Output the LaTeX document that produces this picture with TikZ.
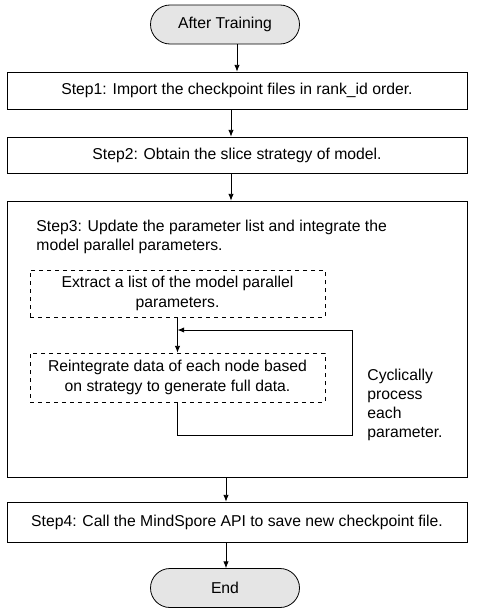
\documentclass[tikz,border=0pt]{standalone}
\usepackage{fontspec}
\setmainfont{Liberation Sans}
\usetikzlibrary{arrows.meta,shapes.misc}
\begin{document}
\begin{tikzpicture}[x=0.75pt,y=-0.75pt,
  font=\fontsize{11.8pt}{14.4pt}\selectfont,
  term/.style={draw,rounded rectangle,fill=black!10,minimum width=111.75pt,minimum height=29.25pt,inner sep=0pt},
  stepbox/.style={draw,rectangle,minimum width=345pt,inner sep=0pt},
  dbox/.style={draw,dashed,rectangle,minimum width=221.25pt,align=center,inner sep=0pt},
  arr/.style={-{Latex[length=5pt,width=4pt]},line width=0.6pt},
  line width=0.6pt]
\useasboundingbox (0,0) rectangle (479,614);
\node[term] (start) at (225,24.5) {After Training};
\node[stepbox,minimum height=27.75pt] (s1) at (237,90.5) {Step1: Import the checkpoint files in rank\_id order.};
\node[stepbox,minimum height=27pt] (s2) at (237,155) {Step2: Obtain the slice strategy of model.};
\node[stepbox,minimum height=207pt] (s3) at (237,339) {};
\node[anchor=west,align=left,inner sep=0pt] (s3t) at (36,237) {Step3: Update the parameter list and integrate the\\model parallel parameters.};
\node[dbox,minimum height=35.25pt] (b1) at (177.5,293.5) {Extract a list of the model parallel\\parameters.};
\node[dbox,minimum height=36.75pt] (b2) at (177.5,377.5) {Reintegrate data of each node based\\on strategy to generate full data.};
\node[anchor=west,align=left,inner sep=0pt] (cyc) at (367,405) {Cyclically\\process\\each\\parameter.};
\node[stepbox,minimum height=30pt] (s4) at (237,522) {Step4: Call the MindSpore API to save new checkpoint file.};
\node[term] (end) at (225,588) {End};
\coordinate (j) at (177.5,330);
\draw[arr] (237,0 |- start.south) -- (237,0 |- s1.north);
\draw[arr] (231,0 |- s1.south) -- (231,0 |- s2.north);
\draw[arr] (231,0 |- s2.south) -- (231,0 |- s3.north);
\draw[arr] (b1.south) -- (b2.north);
\draw[arr] (b2.south) -- ++(0,33) -| (352,330) -- (j);
\draw[arr] (226,0 |- s3.south) -- (226,0 |- s4.north);
\draw[arr] (226,0 |- s4.south) -- (226,0 |- end.north);
\end{tikzpicture}
\end{document}
